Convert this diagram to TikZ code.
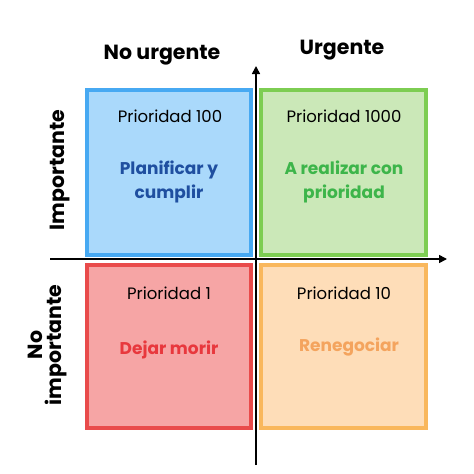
\documentclass[tikz,border=0pt]{standalone}
\usepackage{fontspec}
\setmainfont{Poppins}
\usetikzlibrary{arrows.meta}
\definecolor{bF}{HTML}{AAD9FB}\definecolor{bB}{HTML}{47A9F2}\definecolor{bT}{HTML}{1F4FA0}
\definecolor{gF}{HTML}{CBE8B8}\definecolor{gB}{HTML}{7DCD52}\definecolor{gT}{HTML}{3DB54A}
\definecolor{rF}{HTML}{F6A5A5}\definecolor{rB}{HTML}{E94B4B}\definecolor{rT}{HTML}{E8383D}
\definecolor{oF}{HTML}{FEDDB8}\definecolor{oB}{HTML}{F9B75C}\definecolor{oT}{HTML}{F4A45E}
\begin{document}
\begin{tikzpicture}[x={(1pt,0)},y={(0,-1pt)},
 box/.style={line width=4pt},
 pri/.style={font=\fontsize{16.5}{19}\selectfont},
 act/.style={font=\bfseries\fontsize{17}{24}\selectfont,align=center},
 head/.style={font=\bfseries\fontsize{20.5}{22}\selectfont,align=center},
 ax/.style={line width=1.6pt,-{Triangle[length=8pt,width=8pt]}}]
\useasboundingbox (0,0) rectangle (474,474);
\draw[box,fill=bF,draw=bB] (87,90) rectangle (251,255);
\draw[box,fill=gF,draw=gB] (261,90) rectangle (426,255);
\draw[box,fill=rF,draw=rB] (87,265) rectangle (251,428);
\draw[box,fill=oF,draw=oB] (261,265) rectangle (426,428);
\coordinate (vb) at (256,465); \coordinate (vt) at (256,66);
\coordinate (hl) at (50,259); \coordinate (hr) at (447,259);
\draw[ax] (vb) -- (vt);
\draw[ax] (hl) -- (hr);
\node[head] (nu) at (162,55) {No urgente};
\node[head] (u) at (342,50) {Urgente};
\node[head,rotate=90] (im) at (60,170) {Importante};
\node[head,rotate=90,font=\bfseries\fontsize{20.5}{19}\selectfont] (ni) at (48,345) {No\\importante};
\node[pri] (p1) at (170,116) {Prioridad 100};
\node[pri] (p2) at (344,116) {Prioridad 1000};
\node[pri] (p3) at (169,293) {Prioridad 1};
\node[pri] (p4) at (344,293) {Prioridad 10};
\node[act,text=bT] (a1) at (169,182) {Planificar y\\cumplir};
\node[act,text=gT] (a2) at (344,182) {A realizar con\\prioridad};
\node[act,text=rT] (a3) at (169,350) {Dejar morir};
\node[act,text=oT] (a4) at (349,347) {Renegociar};
\end{tikzpicture}
\end{document}
